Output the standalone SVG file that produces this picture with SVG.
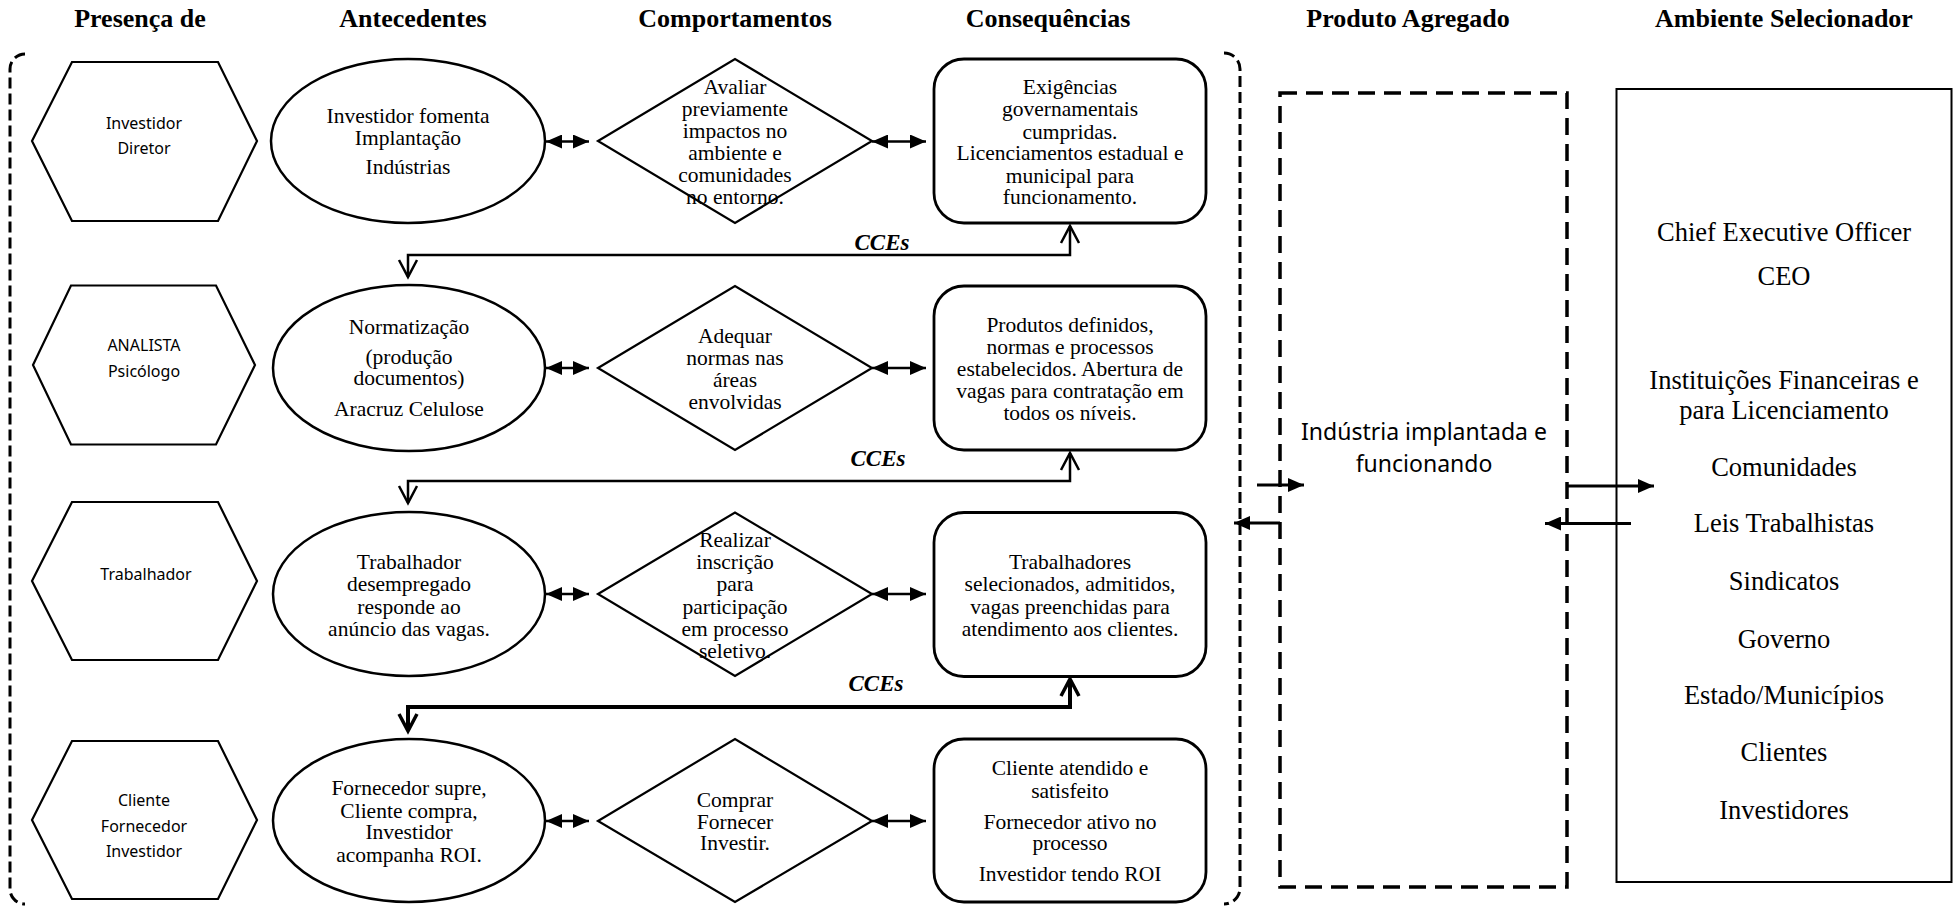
<svg xmlns="http://www.w3.org/2000/svg" width="1954" height="906" viewBox="0 0 1954 906">
<style>
.bg{fill:#fff}
.hd{font-family:"Liberation Serif",serif;font-weight:bold;font-size:26px;fill:#000;text-anchor:middle}
.t{font-family:"Liberation Serif",serif;font-size:21.5px;fill:#000;text-anchor:middle}
.r{font-family:"Liberation Serif",serif;font-size:26.5px;fill:#000;text-anchor:middle}
.s{font-family:"Noto Sans","Liberation Sans",sans-serif;font-size:16px;fill:#000;text-anchor:middle}
.p{font-family:"Noto Sans","Liberation Sans",sans-serif;font-size:23px;fill:#000;text-anchor:middle}
.cce{font-family:"Liberation Serif",serif;font-weight:bold;font-style:italic;font-size:23px;fill:#000;text-anchor:middle}
.hex{fill:#fff;stroke:#000;stroke-width:2.2}
.ell{fill:#fff;stroke:#000;stroke-width:2.5}
.dia{fill:none;stroke:#000;stroke-width:2.2}
.box{fill:#fff;stroke:#000;stroke-width:2.8}
.dbl{stroke:#000;stroke-width:2.5;fill:none;marker-start:url(#fh);marker-end:url(#fh)}
.cc{stroke:#000;stroke-width:2.5;fill:none;marker-start:url(#ov);marker-end:url(#ov)}
.cc3{stroke:#000;stroke-width:4;fill:none;marker-start:url(#ov3);marker-end:url(#ov3)}
.side{stroke:#000;stroke-width:3;fill:none;marker-end:url(#fb)}
.outer{fill:none;stroke:#000;stroke-width:3;stroke-dasharray:11 5}
.prod{fill:none;stroke:#000;stroke-width:3.5;stroke-dasharray:17 9}
.env{fill:#fff;stroke:#000;stroke-width:2}
</style>
<defs>
<marker id="fh" viewBox="0 0 16 14" refX="16" refY="7" markerWidth="16" markerHeight="14" markerUnits="userSpaceOnUse" orient="auto-start-reverse"><path d="M0,0 L16,7 L0,14 z" fill="#000"/></marker>
<marker id="fb" viewBox="0 0 16 14" refX="16" refY="7" markerWidth="16" markerHeight="14" markerUnits="userSpaceOnUse" orient="auto"><path d="M0,0 L16,7 L0,14 z" fill="#000"/></marker>
<marker id="ov" viewBox="-2 -2 22 22" refX="17" refY="9" markerWidth="22" markerHeight="22" markerUnits="userSpaceOnUse" orient="auto-start-reverse"><path d="M0,0 L17,9 L0,18" fill="none" stroke="#000" stroke-width="2.5"/></marker>
<marker id="ov3" viewBox="-3 -3 24 24" refX="17" refY="9" markerWidth="24" markerHeight="24" markerUnits="userSpaceOnUse" orient="auto-start-reverse"><path d="M0,0 L17,9 L0,18" fill="none" stroke="#000" stroke-width="3.5"/></marker>
</defs>
<rect class="bg" x="0" y="0" width="1954" height="906"/>

<g id="headers">
<text class="hd" x="140" y="27">Presença de</text>
<text class="hd" x="413" y="27">Antecedentes</text>
<text class="hd" x="735" y="27">Comportamentos</text>
<text class="hd" x="1048" y="27">Consequências</text>
<text class="hd" x="1408" y="27">Produto Agregado</text>
<text class="hd" x="1784" y="27">Ambiente Selecionador</text>
</g>

<g id="outer-frame">
<path class="outer" d="M25,54 A15,15 0 0 0 10,69 V889 A15,15 0 0 0 25,904"/>
<path class="outer" d="M1224,53 A16,16 0 0 1 1240,69 V888 A16,16 0 0 1 1224,904"/>
</g>

<g id="hex1"><polygon class="hex" points="32,141 72,62 218,62 257,141 218,221 72,221"/>
<text class="s" x="144" y="128.5">Investidor</text><text class="s" x="144" y="154">Diretor</text></g>
<g id="hex2"><polygon class="hex" points="33,365 71,285.5 216,285.5 255,365 216,444.5 71,444.5"/>
<text class="s" x="144" y="351">ANALISTA</text><text class="s" x="144" y="377">Psicólogo</text></g>
<g id="hex3"><polygon class="hex" points="32,581 72,502 218,502 257,581 218,660 72,660"/>
<text class="s" x="146" y="580">Trabalhador</text></g>
<g id="hex4"><polygon class="hex" points="32,820 72,741 218,741 257,820 218,899 72,899"/>
<text class="s" x="144" y="805.5">Cliente</text><text class="s" x="144" y="831.5">Fornecedor</text><text class="s" x="144" y="857">Investidor</text></g>

<g id="ant1"><ellipse class="ell" cx="408" cy="141" rx="137" ry="82"/>
<text class="t" x="408" y="123">Investidor fomenta</text><text class="t" x="408" y="145">Implantação</text><text class="t" x="408" y="173.5">Indústrias</text></g>
<g id="ant2"><ellipse class="ell" cx="409" cy="368" rx="136" ry="83"/>
<text class="t" x="409" y="333.5">Normatização</text><text class="t" x="409" y="363.5">(produção</text><text class="t" x="409" y="385">documentos)</text><text class="t" x="409" y="416">Aracruz Celulose</text></g>
<g id="ant3"><ellipse class="ell" cx="409" cy="594" rx="136" ry="82"/>
<text class="t" x="409" y="569">Trabalhador</text><text class="t" x="409" y="591">desempregado</text><text class="t" x="409" y="614">responde ao</text><text class="t" x="409" y="636">anúncio das vagas.</text></g>
<g id="ant4"><ellipse class="ell" cx="409" cy="820.5" rx="136" ry="81.5"/>
<text class="t" x="409" y="795">Fornecedor supre,</text><text class="t" x="409" y="817.5">Cliente compra,</text><text class="t" x="409" y="839">Investidor</text><text class="t" x="409" y="862">acompanha ROI.</text></g>

<g id="comp1"><polygon class="dia" points="598,141 735,59 872,141 735,223"/>
<text class="t" x="735" y="94">Avaliar</text><text class="t" x="735" y="116">previamente</text><text class="t" x="735" y="138">impactos no</text><text class="t" x="735" y="159.5">ambiente e</text><text class="t" x="735" y="182">comunidades</text><text class="t" x="735" y="203.5">no entorno.</text></g>
<g id="comp2"><polygon class="dia" points="598,368 735,286 872,368 735,450"/>
<text class="t" x="735" y="343">Adequar</text><text class="t" x="735" y="365">normas nas</text><text class="t" x="735" y="387">áreas</text><text class="t" x="735" y="408.6">envolvidas</text></g>
<g id="comp3"><polygon class="dia" points="598,594 735,512.5 872,594 735,676"/>
<text class="t" x="735" y="547">Realizar</text><text class="t" x="735" y="569">inscrição</text><text class="t" x="735" y="591">para</text><text class="t" x="735" y="614">participação</text><text class="t" x="735" y="636">em processo</text><text class="t" x="735" y="658">seletivo.</text></g>
<g id="comp4"><polygon class="dia" points="598,821 735,739 872,821 735,902"/>
<text class="t" x="735" y="807">Comprar</text><text class="t" x="735" y="829">Fornecer</text><text class="t" x="735" y="850">Investir.</text></g>

<g id="cons1"><rect class="box" x="934" y="59" width="272" height="164" rx="30"/>
<text class="t" x="1070" y="94">Exigências</text><text class="t" x="1070" y="116">governamentais</text><text class="t" x="1070" y="139">cumpridas.</text><text class="t" x="1070" y="160">Licenciamentos estadual e</text><text class="t" x="1070" y="182.5">municipal para</text><text class="t" x="1070" y="204">funcionamento.</text></g>
<g id="cons2"><rect class="box" x="934" y="286" width="272" height="164" rx="30"/>
<text class="t" x="1070" y="332">Produtos definidos,</text><text class="t" x="1070" y="354">normas e processos</text><text class="t" x="1070" y="376">estabelecidos. Abertura de</text><text class="t" x="1070" y="397.6">vagas para contratação em</text><text class="t" x="1070" y="420">todos os níveis.</text></g>
<g id="cons3"><rect class="box" x="934" y="512.5" width="272" height="164" rx="30"/>
<text class="t" x="1070" y="569">Trabalhadores</text><text class="t" x="1070" y="591">selecionados, admitidos,</text><text class="t" x="1070" y="614">vagas preenchidas para</text><text class="t" x="1070" y="636">atendimento aos clientes.</text></g>
<g id="cons4"><rect class="box" x="934" y="739" width="272" height="163" rx="30"/>
<text class="t" x="1070" y="775">Cliente atendido e</text><text class="t" x="1070" y="797.6">satisfeito</text><text class="t" x="1070" y="829">Fornecedor ativo no</text><text class="t" x="1070" y="850">processo</text><text class="t" x="1070" y="881">Investidor tendo ROI</text></g>

<g id="produto"><rect class="prod" x="1280" y="93" width="287" height="794"/>
<text class="p" x="1424" y="440">Indústria implantada e</text><text class="p" x="1424" y="472">funcionando</text></g>

<g id="ambiente"><rect class="env" x="1616.5" y="89" width="335" height="793"/>
<text class="r" x="1784" y="241">Chief Executive Officer</text>
<text class="r" x="1784" y="285">CEO</text>
<text class="r" x="1784" y="389">Instituições Financeiras e</text>
<text class="r" x="1784" y="419">para Licenciamento</text>
<text class="r" x="1784" y="475.5">Comunidades</text>
<text class="r" x="1784" y="532">Leis Trabalhistas</text>
<text class="r" x="1784" y="590">Sindicatos</text>
<text class="r" x="1784" y="647.5">Governo</text>
<text class="r" x="1784" y="704">Estado/Municípios</text>
<text class="r" x="1784" y="761">Clientes</text>
<text class="r" x="1784" y="819">Investidores</text>
</g>

<g id="connectors">
<line class="dbl" x1="546" y1="141.5" x2="589" y2="141.5"/>
<line class="dbl" x1="546" y1="368" x2="589" y2="368"/>
<line class="dbl" x1="546" y1="594" x2="589" y2="594"/>
<line class="dbl" x1="546" y1="821" x2="589" y2="821"/>
<line class="dbl" x1="872" y1="141.5" x2="926" y2="141.5"/>
<line class="dbl" x1="872" y1="368" x2="926" y2="368"/>
<line class="dbl" x1="872" y1="594" x2="926" y2="594"/>
<line class="dbl" x1="872" y1="821" x2="926" y2="821"/>
<path class="cc" d="M408,277 V255 H1070 V226"/>
<path class="cc" d="M408,503 V481 H1070 V453"/>
<path class="cc3" d="M408,731 V707 H1070 V679"/>
<text class="cce" x="882" y="250">CCEs</text>
<text class="cce" x="878" y="466">CCEs</text>
<text class="cce" x="876" y="691">CCEs</text>
<line class="side" x1="1257" y1="485" x2="1304" y2="485"/>
<line class="side" x1="1280" y1="523" x2="1234" y2="523"/>
<line class="side" x1="1568" y1="486" x2="1654" y2="486"/>
<line class="side" x1="1631" y1="523.5" x2="1545" y2="523.5"/>
</g>
</svg>
